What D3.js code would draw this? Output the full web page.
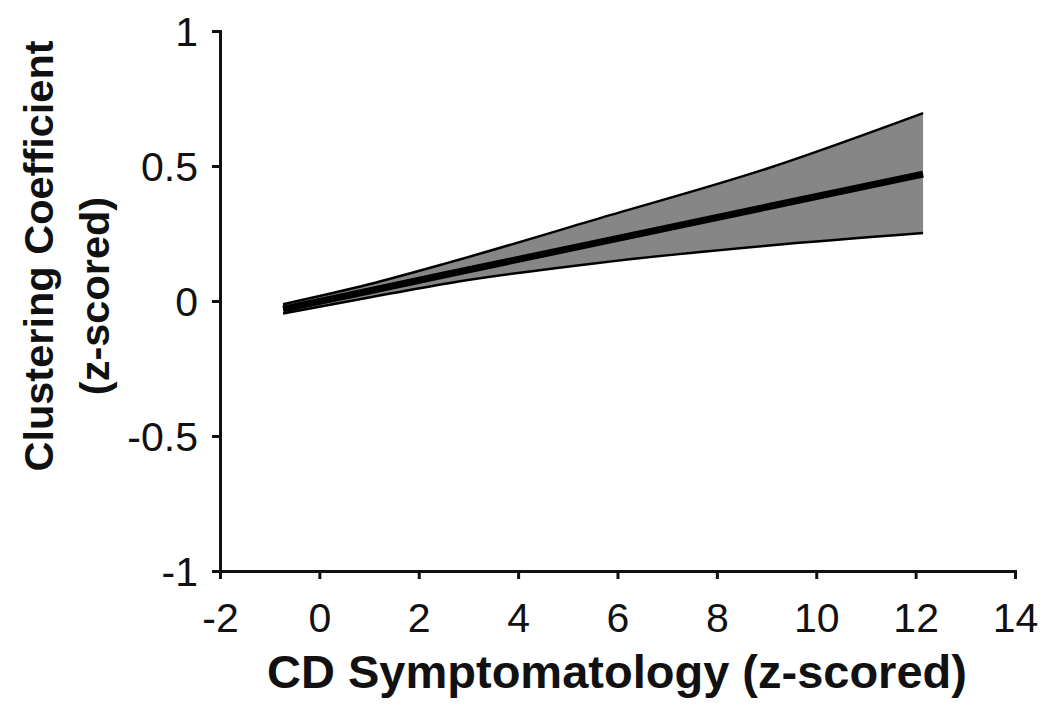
<!DOCTYPE html>
<html>
<head>
<meta charset="utf-8">
<script src="https://cdn.jsdelivr.net/npm/d3@7"></script>
<style>
  body { margin: 0; background: #fff; }
  svg { font-family: "Liberation Sans", Arial, sans-serif; }
  .axis path, .axis line { stroke: #111; stroke-width: 3; }
  .axis text { font-size: 41px; fill: #111; }
  .title { font-weight: bold; fill: #111; }
</style>
</head>
<body>
<div id="chart"></div>
<script>
// values
var xVals = [-0.73, 1.0, 2.6, 5.65, 9.0, 12.15];
var fitVals = [-0.03, 0.037, 0.10, 0.218, 0.348, 0.47];
var upperVals = [-0.012, 0.062, 0.142, 0.307, 0.49, 0.696];
var lowerVals = [-0.046, 0.013, 0.066, 0.142, 0.205, 0.252];
var xTicks = [-2, 0, 2, 4, 6, 8, 10, 12, 14];
var yTicks = [-1, -0.5, 0, 0.5, 1];

var W = 1050, H = 710;
var margin = {top: 31, right: 35, bottom: 139, left: 220},
    width = W - margin.left - margin.right,
    height = H - margin.top - margin.bottom;

var svg = d3.select("#chart").append("svg")
    .attr("width", W)
    .attr("height", H);

var g = svg.append("g")
    .attr("transform", "translate(" + margin.left + "," + margin.top + ")");

var x = d3.scaleLinear().domain([-2, 14]).range([0, width]);
var y = d3.scaleLinear().domain([-1, 1]).range([height, 0]);

var pts = xVals.map(function(d, i) {
    return {x: d, fit: fitVals[i], hi: upperVals[i], lo: lowerVals[i]};
});

// confidence band
var band = d3.area()
    .x(function(d) { return x(d.x); })
    .y0(function(d) { return y(d.lo); })
    .y1(function(d) { return y(d.hi); })
    .curve(d3.curveMonotoneX);

g.append("path")
    .datum(pts)
    .attr("fill", "#868686")
    .attr("d", band);

var upLine = d3.line()
    .x(function(d) { return x(d.x); })
    .y(function(d) { return y(d.hi); })
    .curve(d3.curveMonotoneX);

var loLine = d3.line()
    .x(function(d) { return x(d.x); })
    .y(function(d) { return y(d.lo); })
    .curve(d3.curveMonotoneX);

g.append("path").datum(pts)
    .attr("fill", "none").attr("stroke", "#000").attr("stroke-width", 2.5)
    .attr("d", upLine);

g.append("path").datum(pts)
    .attr("fill", "none").attr("stroke", "#000").attr("stroke-width", 2.5)
    .attr("d", loLine);

// fitted line
var fitLine = d3.line()
    .x(function(d) { return x(d.x); })
    .y(function(d) { return y(d.fit); });

g.append("path").datum(pts)
    .attr("fill", "none").attr("stroke", "#000").attr("stroke-width", 7)
    .attr("stroke-linecap", "butt")
    .attr("d", fitLine);

// axes
var fmt = function(d) { return String(d); };

g.append("g")
    .attr("class", "axis")
    .attr("transform", "translate(0," + height + ")")
    .call(d3.axisBottom(x).tickValues(xTicks).tickFormat(fmt)
        .tickSize(8).tickSizeOuter(0))
    .selectAll("text")
    .attr("y", 61).attr("dy", null);

g.append("g")
    .attr("class", "axis")
    .call(d3.axisLeft(y).tickValues(yTicks).tickFormat(fmt)
        .tickSize(8).tickSizeOuter(0))
    .selectAll("text")
    .attr("x", -22).attr("dy", "0.36em");

g.selectAll(".axis .domain").attr("stroke-linecap", "square");

// axis titles
svg.append("text")
    .attr("class", "title")
    .attr("x", 617)
    .attr("y", 688)
    .attr("text-anchor", "middle")
    .style("font-size", "47px")
    .text("CD Symptomatology (z-scored)");

svg.append("text")
    .attr("class", "title")
    .attr("transform", "translate(53,256) rotate(-90)")
    .attr("text-anchor", "middle")
    .style("font-size", "41.5px")
    .text("Clustering Coefficient");

svg.append("text")
    .attr("class", "title")
    .attr("transform", "translate(109,296) rotate(-90)")
    .attr("text-anchor", "middle")
    .style("font-size", "41.5px")
    .text("(z-scored)");
</script>
</body>
</html>
